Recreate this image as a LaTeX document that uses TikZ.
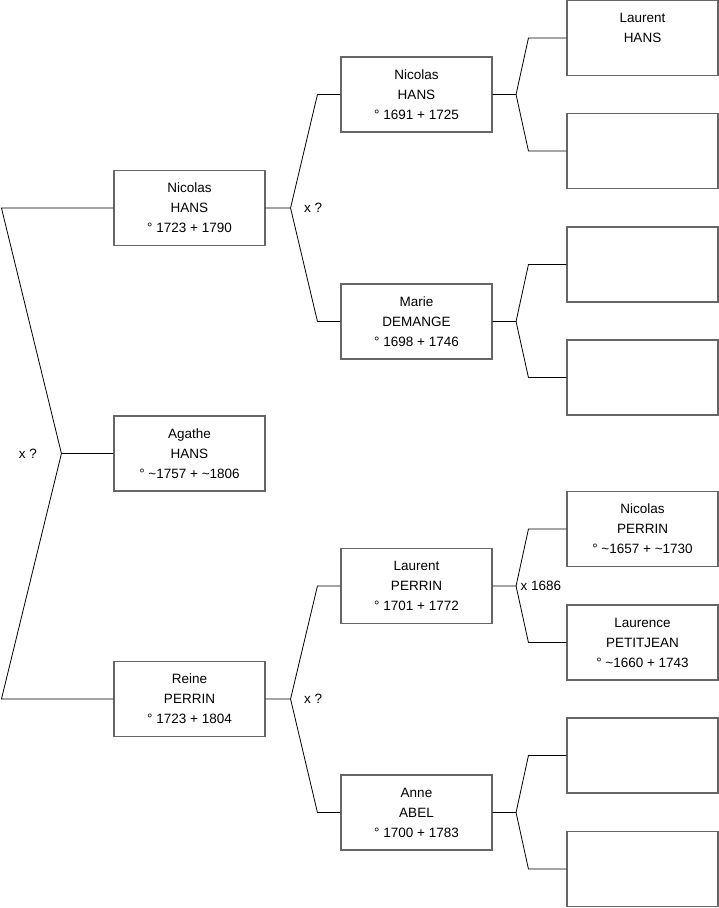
\documentclass[tikz,border=0pt]{standalone}
\usepackage{fontspec}
\setmainfont{Liberation Sans}
\begin{document}
\begin{tikzpicture}[
    x=1pt, y=-1pt,
    every node/.style={font=\fontsize{13.5}{20}\selectfont},
    person/.style={draw=black!60, line width=1.1pt, minimum width=151pt,
        minimum height=75pt, inner sep=0pt, align=center},
    link/.style={line width=0.8pt},
]
\useasboundingbox (0,0) rectangle (719,908);

% === Columns ===
\def\colA{189.5}
\def\colB{416.5}
\def\colC{642.5}

% === Generation 0 ===
\node[person] (nicolasB) at (\colA,208) {Nicolas\\HANS\\° 1723 + 1790};
\node[person] (agathe) at (\colA,453.5) {Agathe\\HANS\\° \textasciitilde1757 + \textasciitilde1806};
\node[person] (reine) at (\colA,699) {Reine\\PERRIN\\° 1723 + 1804};

% === Generation 1 ===
\node[person] (nicolasA) at (\colB,94.5) {Nicolas\\HANS\\° 1691 + 1725};
\node[person] (marie) at (\colB,321.5) {Marie\\DEMANGE\\° 1698 + 1746};
\node[person] (laurentP) at (\colB,586) {Laurent\\PERRIN\\° 1701 + 1772};
\node[person] (anne) at (\colB,812.5) {Anne\\ABEL\\° 1700 + 1783};

% === Generation 2 ===
\node[person] (laurentH) at (\colC,38) {Laurent\\HANS\\\phantom{0}};
\node[person] (nicolasP) at (\colC,529) {Nicolas\\PERRIN\\° \textasciitilde1657 + \textasciitilde1730};
\node[person] (laurence) at (\colC,642.5) {Laurence\\PETITJEAN\\° \textasciitilde1660 + 1743};
% unknown ancestors
\foreach \name/\ypos in {unkA/151, unkB/264.5, unkC/377.5, unkD/755.5, unkE/869} {
    \node[person] (\name) at (\colC,\ypos) {};
}

% === Parent forks ===
\foreach \kid/\pa/\ma/\spread/\reach in {nicolasB/nicolasA/marie/23/25, reine/laurentP/anne/23/25,
        nicolasA/laurentH/unkA/38/23.5, marie/unkB/unkC/38/23.5,
        laurentP/nicolasP/laurence/38/23.5, anne/unkD/unkE/38/23.5} {
    \draw[link] (\kid.east) -- ++(\reach,0) coordinate (\kid-fk)
        -- ([xshift=-\spread]\pa.west) -- (\pa.west);
    \draw[link] (\kid-fk) -- ([xshift=-\spread]\ma.west) -- (\ma.west);
}

% Agathe's parents (fork on the left)
\draw[link] (agathe.west) -- ++(-52,0) coordinate (agathe-fk)
    -- ([xshift=-112]nicolasB.west) -- (nicolasB.west);
\draw[link] (agathe-fk) -- ([xshift=-112]reine.west) -- (reine.west);

% === Marriage labels ===
\node[anchor=west] (wedA) at ([xshift=-46]agathe-fk) {x ?};
\node[anchor=west] (wedB) at ([xshift=10]nicolasB-fk) {x ?};
\node[anchor=west] (wedC) at ([xshift=10]reine-fk) {x ?};
\node[anchor=west] (wedD) at ([xshift=1]laurentP-fk) {x 1686};

\end{tikzpicture}
\end{document}
